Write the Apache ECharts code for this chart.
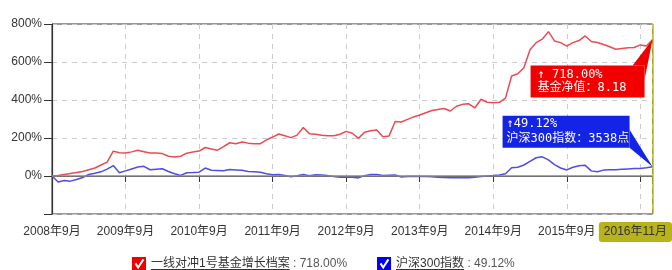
<!DOCTYPE html>
<html><head><meta charset="utf-8">
<script src="https://cdn.jsdelivr.net/npm/echarts@6/dist/echarts.min.js"></script>
<style>html,body{margin:0;padding:0;background:#fff}#c{width:672px;height:270px}</style>
</head><body><div id="c"></div>
<script>
// month index 0 = 2008年9月, 98 = 2016年11月
const xTickLabels = ['2008年9月','2009年9月','2010年9月','2011年9月','2012年9月','2013年9月','2014年9月','2015年9月','2016年9月'];
const lastLabel = '2016年11月';
const seriesNames = ['一线对冲1号基金增长档案','沪深300指数'];
const legendValues = ['718.00%','49.12%'];
const fundGrowth = [0,3,8,13,18,24,33,42,58,73,131,122,121,127,135,128,121,121,118,104,100,104,120,126,131,150,142,136,155,175,170,179,173,170,170,190,205,221,212,202,215,255,223,220,214,212,212,220,235,225,198,230,238,242,206,211,287,284,298,311,321,333,345,350,355,342,367,377,380,358,404,388,385,388,410,526,538,570,665,702,720,760,711,702,684,702,713,737,708,703,692,680,667,671,675,676,690,684,718];
const indexGrowth = [0,-32,-24,-27,-18,-8,8,14,22,36,55,17,27,37,47,51,33,36,38,24,12,3,17,18,20,42,30,29,28,34,32,30,24,22,20,12,7,8,3,-4,1,8,1,6,5,2,-3,-6,-5,-6,-10,2,8,8,3,4,5,-5,-3,-2,-2,-2,-4,-6,-8,-9,-9,-9,-9,-7,-3,0,2,5,12,43,46,58,77,96,101,85,60,42,32,46,54,56,27,22,31,33,33,35,37,39,40,43,49.12];
const fundTip = ['↑ 718.00%','基金净值：8.18'];
const indexTip = ['↑49.12%','沪深300指数：3538点'];

const toPairs = arr => arr.map((v,i)=>[i,v]);
const chart = echarts.init(document.getElementById('c'), null, {renderer:'canvas'});
const txt = '#333';
const option = {
  animation:false,
  grid:{left:52, right:1, top:24, bottom:56, show:true, borderColor:'#333', borderWidth:1},
  xAxis:{type:'value', min:0, max:98, interval:12,
    axisLine:{lineStyle:{color:'#333', width:1.2}},
    axisTick:{length:6, lineStyle:{color:'#333'}},
    axisLabel:{margin:12, color:txt, fontSize:12, fontFamily:'Arial, "Noto Sans CJK SC"',
      formatter:v=> (v%12===0 && xTickLabels[v/12]) ? xTickLabels[v/12] : ''},
    splitLine:{show:true, lineStyle:{color:'#ccc', type:[5,5]}},
    axisPointer:{show:true, value:98, status:'show', type:'line', triggerTooltip:false,
      lineStyle:{color:'#c4c020', width:1.5, type:'solid'},
      label:{show:true, margin:8, formatter:()=>lastLabel, backgroundColor:'#b8b31c', color:'#333',
        padding:[4,5,4,5], fontSize:12, fontFamily:'Arial, "Noto Sans CJK SC"'}}
  },
  yAxis:{type:'value', min:-200, max:800, interval:200,
    axisLine:{show:true, lineStyle:{color:'#333', width:1.2}},
    axisTick:{show:true, length:8, lineStyle:{color:'#333'}},
    axisLabel:{margin:10, color:txt, fontSize:12, fontFamily:'Arial, "Noto Sans CJK SC"',
      formatter:v=> v===-200 ? '' : v+'%'},
    splitLine:{show:true, lineStyle:{color:'#ccc', type:[5,5]}}
  },
  legend:{left:127, top:252, itemWidth:14, itemHeight:16, itemGap:30, selectedMode:false,
    icon:'path://M0,0L16,0L16,16L0,16Z M3,8L7,14L14,3.5L12,2L7,10L5,6.5Z',
    data:[{name:seriesNames[0], itemStyle:{color:'#f20000'}},{name:seriesNames[1], itemStyle:{color:'#0000ee'}}],
    formatter:name=>{const i=seriesNames.indexOf(name); return '{n|'+name+'}{v| : '+legendValues[i]+'}';},
    textStyle:{fontSize:12, fontFamily:'Arial, "Noto Sans CJK SC"', rich:{
      n:{color:'#333', fontSize:12, padding:[0,0,1,0],
        backgroundColor:{type:'linear',x:0,y:0,x2:0,y2:1,colorStops:[{offset:0,color:'rgba(0,0,0,0)'},{offset:0.92,color:'rgba(0,0,0,0)'},{offset:0.92,color:'#333'},{offset:1,color:'#333'}]}},
      v:{color:'#555', fontSize:12}}}
  },
  series:[
    {name:seriesNames[0], type:'line', data:toPairs(fundGrowth), showSymbol:false, symbol:'none',
      lineStyle:{color:'#ec4a52', width:1.5}, itemStyle:{color:'#ec4a52'},
      markLine:{silent:true, symbol:'none', label:{show:false}, lineStyle:{color:'#888', type:'solid', width:1.5}, data:[{yAxis:0}]}},
    {name:seriesNames[1], type:'line', data:toPairs(indexGrowth), showSymbol:false, symbol:'none',
      lineStyle:{color:'#4e4ee6', width:1.5}, itemStyle:{color:'#4e4ee6'}}
  ]
};
chart.setOption(option);

const last = fundGrowth.length-1;
const pF = chart.convertToPixel({seriesIndex:0}, [last, fundGrowth[last]]);
const pI = chart.convertToPixel({seriesIndex:1}, [last, indexGrowth[last]]);
const tipFont = '"DejaVu Sans Mono", "Noto Sans CJK SC"';
const rL=pF[0]-122, rR=pF[0]-8, rT=pF[1]+26, rB=pF[1]+58;
const bL=pI[0]-150, bR=pI[0]-23, bT=pI[1]-51, bB=pI[1]-19;
chart.setOption({graphic:[
  {type:'polygon', z:100, shape:{points:[[pF[0],pF[1]],[rR-12,rT],[rR,rT],[rR,rT+14]]}, style:{fill:'#f20000'}},
  {type:'rect', z:100, shape:{x:rL,y:rT,width:rR-rL,height:rB-rT}, style:{fill:'#f20000'}},
  {type:'text', z:101, x:rL+7, y:(rT+rB)/2, style:{text:fundTip.join('\n'), fill:'#fff', font:'12px '+tipFont, lineHeight:13, verticalAlign:'middle'}},
  {type:'polygon', z:100, shape:{points:[[bR,bT+14],[bR,bB],[pI[0],pI[1]]]}, style:{fill:'#1424e6'}},
  {type:'rect', z:100, shape:{x:bL,y:bT,width:bR-bL,height:bB-bT}, style:{fill:'#1424e6'}},
  {type:'text', z:101, x:bL+4, y:(bT+bB)/2, style:{text:indexTip.join('\n'), fill:'#fff', font:'12px '+tipFont, lineHeight:15, verticalAlign:'middle'}}
]});
</script></body></html>
